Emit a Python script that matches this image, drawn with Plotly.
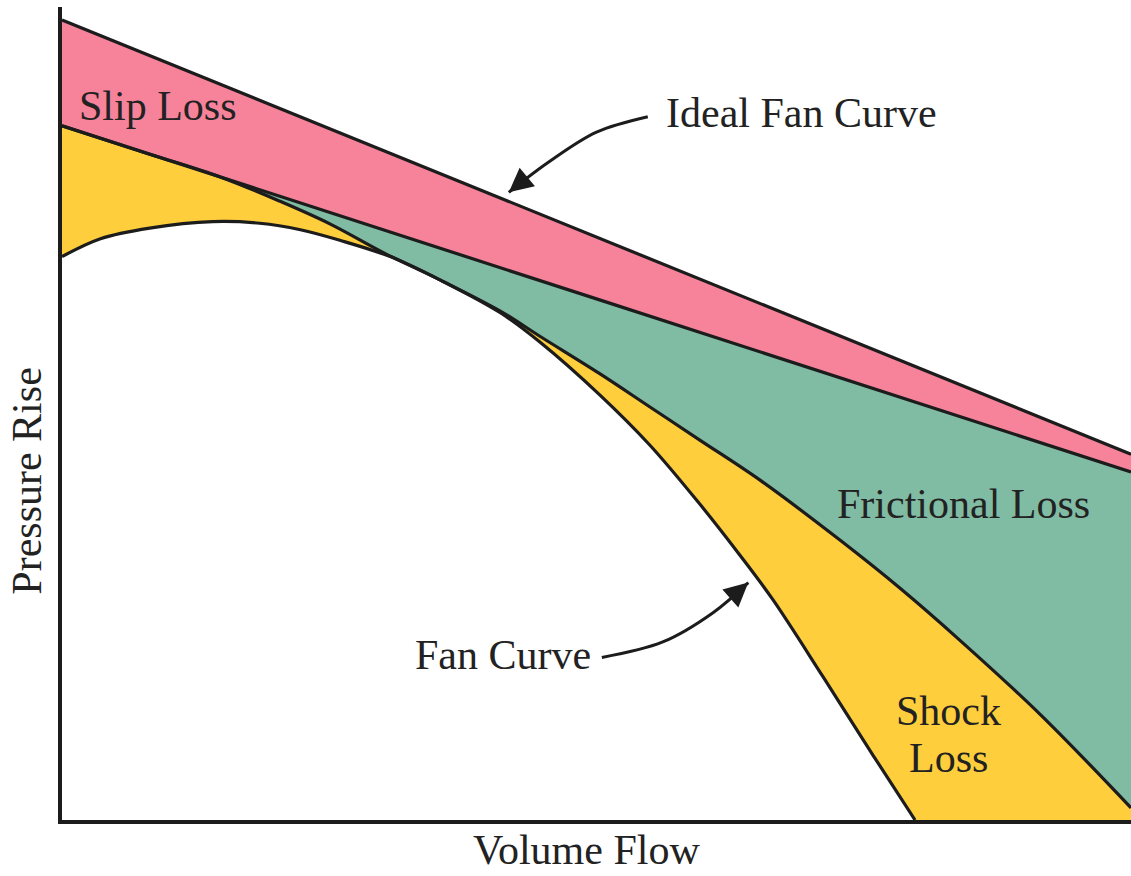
import plotly.graph_objects as go

# ---- data (x: volume flow 0-100, y: pressure rise 0-100) ----
ideal_x = [0, 100]
ideal_y = [98.4, 45.0]

slip_x = [0, 50, 100]
slip_y = [85.4, 64.1, 42.8]

friction_x = [0, 8.2, 14.8, 20.4, 25.1, 30.2, 35.4, 41.0, 44.7, 50.3, 55.0, 59.7,
              65.3, 72.8, 78.4, 84.0, 91.5, 100]
friction_y = [85.4, 81.9, 79.1, 76.1, 73.3, 69.7, 66.4, 62.6, 59.5, 54.9, 50.8, 46.7,
              41.8, 34.4, 28.5, 22.1, 13.0, 1.5]

fan_x = [0, 3.6, 8.2, 14.1, 18.5, 22.3, 26.0, 30.7, 35.4, 41.0, 44.7, 50.3, 55.0,
         59.7, 63.4, 66.5, 71.2, 75.9, 79.8]
fan_y = [69.3, 71.5, 72.8, 73.6, 73.4, 72.6, 71.3, 69.3, 66.4, 62.4, 58.8, 52.3, 46.1,
         38.8, 32.6, 27.1, 17.6, 7.9, 0.0]

# annotation arrow paths
ideal_arrow_x = [54.8, 50.0, 45.4, 41.8]
ideal_arrow_y = [86.5, 84.6, 80.8, 77.2]
fan_arrow_x = [50.5, 56.2, 60.9, 64.2]
fan_arrow_y = [20.0, 21.9, 25.5, 29.2]

PINK = "#F7839B"
GREEN = "#80BBA3"
YELLOW = "#FECE3C"
INK = "#1c1c1c"
FONT = "Liberation Serif"

fig = go.Figure()

# filled bands (painted in order)
for xs, ys, col in [(ideal_x, ideal_y, PINK), (slip_x, slip_y, GREEN),
                    (friction_x, friction_y, YELLOW), (fan_x, fan_y, "white")]:
    fig.add_trace(go.Scatter(x=xs, y=ys, mode="lines", fill="tozeroy", fillcolor=col,
                             line=dict(width=0, shape="spline"), hoverinfo="skip",
                             showlegend=False))

# outlines
for xs, ys in [(ideal_x, ideal_y), (slip_x, slip_y), (friction_x, friction_y), (fan_x, fan_y)]:
    fig.add_trace(go.Scatter(x=xs, y=ys, mode="lines",
                             line=dict(width=3.2, color=INK, shape="spline"),
                             hoverinfo="skip", showlegend=False))

# arrow bodies
for xs, ys in [(ideal_arrow_x, ideal_arrow_y), (fan_arrow_x, fan_arrow_y)]:
    fig.add_trace(go.Scatter(x=xs, y=ys, mode="lines",
                             line=dict(width=3, color=INK, shape="spline"),
                             hoverinfo="skip", showlegend=False))

tf = dict(family=FONT, size=42, color="#222222")

annos = [
    dict(text="Slip Loss", x=0.090, y=0.878),
    dict(text="Ideal Fan Curve", x=0.692, y=0.870),
    dict(text="Frictional Loss", x=0.843, y=0.389),
    dict(text="Shock", x=0.829, y=0.134),
    dict(text="Loss", x=0.829, y=0.076),
    dict(text="Fan Curve", x=0.4125, y=0.203),
    dict(text="Pressure Rise", x=-0.033, y=0.417, textangle=-90),
]
for a in annos:
    fig.add_annotation(**a, xref="paper", yref="paper", showarrow=False, font=tf,
                       xanchor="center", yanchor="middle", borderpad=0)

fig.add_annotation(text="Volume Flow", x=0.491, y=-0.0665, xref="paper", yref="paper",
                   showarrow=False, font=tf, xanchor="center", yanchor="bottom", borderpad=0)

# arrowheads
fig.add_annotation(x=ideal_arrow_x[-1], y=ideal_arrow_y[-1], xref="x", yref="y",
                   text="", showarrow=True, arrowhead=2, arrowsize=1.6, arrowwidth=3,
                   arrowcolor=INK, ax=18, ay=-15, standoff=0)
fig.add_annotation(x=fan_arrow_x[-1], y=fan_arrow_y[-1], xref="x", yref="y",
                   text="", showarrow=True, arrowhead=2, arrowsize=1.6, arrowwidth=3,
                   arrowcolor=INK, ax=-18, ay=16, standoff=0)

fig.update_xaxes(range=[0, 100], showgrid=False, zeroline=False, showticklabels=False,
                 ticks="", showline=True, linewidth=3.5, linecolor=INK)
fig.update_yaxes(range=[0, 100], showgrid=False, zeroline=False, showticklabels=False,
                 ticks="", showline=True, linewidth=3.5, linecolor=INK)

fig.update_layout(width=1131, height=876, margin=dict(l=62, r=0, t=7, b=56),
                  paper_bgcolor="white", plot_bgcolor="white", showlegend=False)

fig.write_html("out.html", config={"displayModeBar": False},
               post_script="document.body.style.margin='0';document.body.style.overflow='hidden';")
